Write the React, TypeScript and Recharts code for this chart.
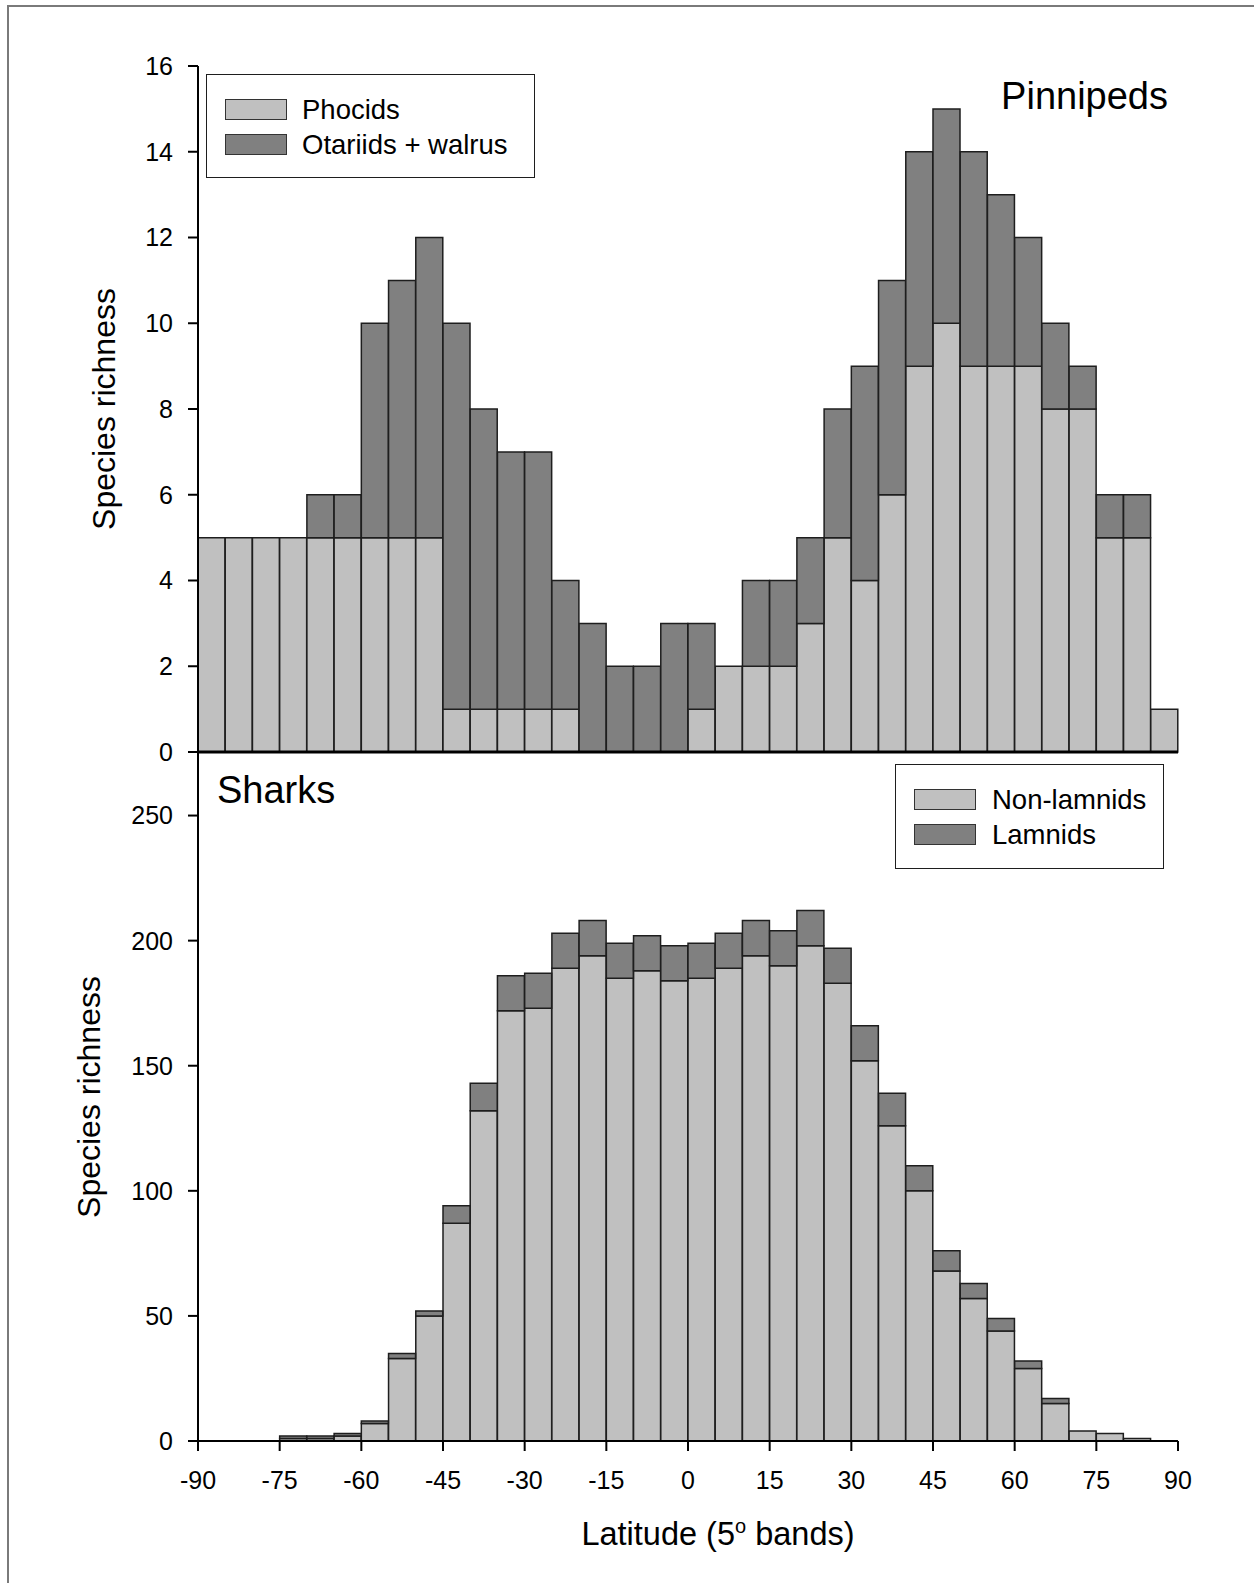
import React from 'react';
import { BarChart, Bar, XAxis, YAxis, Legend } from 'recharts';

// 5-degree latitude bands (lower edge of each band)
const bandStarts = [
  -90, -85, -80, -75, -70, -65, -60, -55, -50, -45, -40, -35, -30, -25, -20, -15, -10, -5,
  0, 5, 10, 15, 20, 25, 30, 35, 40, 45, 50, 55, 60, 65, 70, 75, 80, 85,
];

// Pinnipeds
const phocids = [5, 5, 5, 5, 5, 5, 5, 5, 5, 1, 1, 1, 1, 1, 0, 0, 0, 0, 1, 2, 2, 2, 3, 5, 4, 6, 9, 10, 9, 9, 9, 8, 8, 5, 5, 1];
const otariidsWalrus = [0, 0, 0, 0, 1, 1, 5, 6, 7, 9, 7, 6, 6, 3, 3, 2, 2, 3, 2, 0, 2, 2, 2, 3, 5, 5, 5, 5, 5, 4, 3, 2, 1, 1, 1, 0];

// Sharks
const nonLamnids = [0, 0, 0, 1, 1, 2, 7, 33, 50, 87, 132, 172, 173, 189, 194, 185, 188, 184, 185, 189, 194, 190, 198, 183, 152, 126, 100, 68, 57, 44, 29, 15, 4, 3, 1, 0];
const lamnids = [0, 0, 0, 1, 1, 1, 1, 2, 2, 7, 11, 14, 14, 14, 14, 14, 14, 14, 14, 14, 14, 14, 14, 14, 14, 13, 10, 8, 6, 5, 3, 2, 0, 0, 0, 0];

// Tick labels
const latitudeTicks = [-90, -75, -60, -45, -30, -15, 0, 15, 30, 45, 60, 75, 90];
const pinnipedTicks = [0, 2, 4, 6, 8, 10, 12, 14, 16];
const sharkTicks = [0, 50, 100, 150, 200, 250];

const LIGHT = '#c0c0c0';
const DARK = '#808080';
const EDGE = '#1e1e1e';
const FONT = "'Liberation Sans', Arial, Helvetica, sans-serif";

const pinnipedSeries = [
  { key: 'phocids', name: 'Phocids', fill: LIGHT },
  { key: 'otariids', name: 'Otariids + walrus', fill: DARK },
];
const sharkSeries = [
  { key: 'nonLamnids', name: 'Non-lamnids', fill: LIGHT },
  { key: 'lamnids', name: 'Lamnids', fill: DARK },
];

const pinnipedData = bandStarts.map((b, i) => ({ band: b, phocids: phocids[i], otariids: otariidsWalrus[i] }));
const sharkData = bandStarts.map((b, i) => ({ band: b, nonLamnids: nonLamnids[i], lamnids: lamnids[i] }));

type Item = { key: string; name: string; fill: string };

const BoxLegend = ({ items, w, h, rowTops, textLeft }: { items: Item[]; w: number; h: number; rowTops: number[]; textLeft: number }) => (
  <div
    style={{
      position: 'relative',
      width: w,
      height: h,
      border: `1.5px solid ${EDGE}`,
      boxSizing: 'border-box',
      background: '#fff',
      fontFamily: FONT,
    }}
  >
    {items.map((it, i) => (
      <React.Fragment key={it.key}>
        <div
          style={{
            position: 'absolute',
            left: 18,
            top: rowTops[i] - 1,
            width: 62,
            height: 21,
            background: it.fill,
            border: '1.5px solid #333',
            boxSizing: 'border-box',
          }}
        />
        <div
          style={{
            position: 'absolute',
            left: textLeft - 1,
            top: rowTops[i] - 4,
            fontSize: 27.5,
            lineHeight: '27px',
            whiteSpace: 'nowrap',
            color: '#000',
          }}
        >
          {it.name}
        </div>
      </React.Fragment>
    ))}
  </div>
);

const LatitudeLabel = (props: any) => {
  const vb = props && props.viewBox ? props.viewBox : { x: 198, y: 741, width: 980, height: 142 };
  const cx = vb.x + vb.width / 2 + 30;
  const y = vb.y + 104;
  return (
    <text x={cx} y={y} textAnchor="middle" fontSize={32.5} fill="#000" fontFamily={FONT}>
      Latitude (5
      <tspan dy={-12} fontSize={20}>o</tspan>
      <tspan dy={12}> bands)</tspan>
    </text>
  );
};

const axisStroke = { stroke: '#000', strokeWidth: 2 };
const tickStyle = { fill: '#000', fontSize: 25, fontFamily: FONT };

export default function App() {
  return (
    <div
      style={{
        position: 'absolute',
        left: 0,
        top: 0,
        width: 1254,
        height: 1583,
        background: '#fff',
        overflow: 'hidden',
        fontFamily: FONT,
      }}
    >
      {/* outer frame */}
      <div
        style={{
          position: 'absolute',
          left: 7,
          top: 5,
          width: 1260,
          height: 1600,
          borderTop: '2px solid #7a7a7a',
          borderLeft: '2px solid #7a7a7a',
        }}
      />

      {/* Pinnipeds panel */}
      <div style={{ position: 'absolute', left: 0, top: 0 }}>
        <BarChart
          width={1254}
          height={800}
          data={pinnipedData}
          margin={{ top: 66, right: 76, bottom: 0, left: 0 }}
          barCategoryGap={0}
          barGap={0}
        >
          <XAxis xAxisId="cat" dataKey="band" hide height={0} />
          <XAxis
            xAxisId="num"
            dataKey="band"
            type="number"
            domain={[-90, 90]}
            allowDataOverflow
            ticks={latitudeTicks}
            tick={false}
            tickLine={false}
            axisLine={{ stroke: '#000', strokeWidth: 3 }}
            height={48}
          />
          <XAxis
            xAxisId="frameTop"
            dataKey="band"
            orientation="top"
            type="number"
            domain={[-90, 90]}
            allowDataOverflow
            tick={false}
            tickLine={false}
            axisLine={{ stroke: '#000', strokeWidth: 1.5 }}
            height={0}
          />
          <YAxis
            yAxisId="left"
            width={198}
            domain={[0, 16]}
            ticks={pinnipedTicks}
            interval={0}
            tickSize={10}
            tickMargin={15}
            tick={tickStyle}
            axisLine={axisStroke}
            tickLine={axisStroke}
            label={{
              value: 'Species richness',
              angle: -90,
              position: 'insideLeft',
              offset: 104,
              style: { textAnchor: 'middle', fontSize: 32, fill: '#000', fontFamily: FONT },
            }}
          />
          <YAxis
            yAxisId="frameRight"
            orientation="right"
            width={0}
            domain={[0, 16]}
            allowDataOverflow
            tick={false}
            tickLine={false}
            axisLine={{ stroke: '#000', strokeWidth: 1.5 }}
          />
          {pinnipedSeries.map((s) => (
            <Bar
              key={s.key}
              xAxisId="cat"
              yAxisId="left"
              dataKey={s.key}
              name={s.name}
              stackId="p"
              fill={s.fill}
              stroke={EDGE}
              strokeWidth={1.5}
              isAnimationActive={false}
            />
          ))}
          <Legend
            layout="vertical"
            align="center"
            verticalAlign="middle"
            wrapperStyle={{ left: 206, top: 74, width: 329, height: 104 }}
            content={() => <BoxLegend items={pinnipedSeries} w={329} h={104} rowTops={[25, 60]} textLeft={96} />}
          />
        </BarChart>
      </div>

      {/* Sharks panel */}
      <div style={{ position: 'absolute', left: 0, top: 700 }}>
        <BarChart
          width={1254}
          height={883}
          data={sharkData}
          margin={{ top: 53, right: 76, bottom: 0, left: 0 }}
          barCategoryGap={0}
          barGap={0}
        >
          <XAxis xAxisId="cat" dataKey="band" hide height={0} />
          <XAxis
            xAxisId="num"
            dataKey="band"
            type="number"
            domain={[-90, 90]}
            allowDataOverflow
            ticks={latitudeTicks}
            interval={0}
            tickSize={10}
            tickMargin={20}
            tick={tickStyle}
            axisLine={axisStroke}
            tickLine={axisStroke}
            height={142}
            label={LatitudeLabel}
          />
          <YAxis
            yAxisId="left"
            width={198}
            domain={[0, 275]}
            ticks={sharkTicks}
            interval={0}
            tickSize={10}
            tickMargin={15}
            tick={tickStyle}
            axisLine={axisStroke}
            tickLine={axisStroke}
            label={{
              value: 'Species richness',
              angle: -90,
              position: 'insideLeft',
              offset: 89,
              style: { textAnchor: 'middle', fontSize: 32, fill: '#000', fontFamily: FONT },
            }}
          />
          <YAxis
            yAxisId="frameRight"
            orientation="right"
            width={0}
            domain={[0, 275]}
            allowDataOverflow
            tick={false}
            tickLine={false}
            axisLine={{ stroke: '#000', strokeWidth: 1.5 }}
          />
          {sharkSeries.map((s) => (
            <Bar
              key={s.key}
              xAxisId="cat"
              yAxisId="left"
              dataKey={s.key}
              name={s.name}
              stackId="s"
              fill={s.fill}
              stroke={EDGE}
              strokeWidth={1.5}
              isAnimationActive={false}
            />
          ))}
          <Legend
            layout="vertical"
            align="center"
            verticalAlign="middle"
            wrapperStyle={{ left: 895, top: 64, width: 269, height: 105 }}
            content={() => <BoxLegend items={sharkSeries} w={269} h={105} rowTops={[25, 59.5]} textLeft={97} />}
          />
        </BarChart>
      </div>

      {/* panel titles */}
      <div style={{ position: 'absolute', right: 86, top: 77, fontSize: 38, lineHeight: '38px', color: '#000', whiteSpace: 'nowrap' }}>
        Pinnipeds
      </div>
      <div style={{ position: 'absolute', left: 217, top: 771, fontSize: 38, lineHeight: '38px', color: '#000', whiteSpace: 'nowrap' }}>
        Sharks
      </div>
    </div>
  );
}
